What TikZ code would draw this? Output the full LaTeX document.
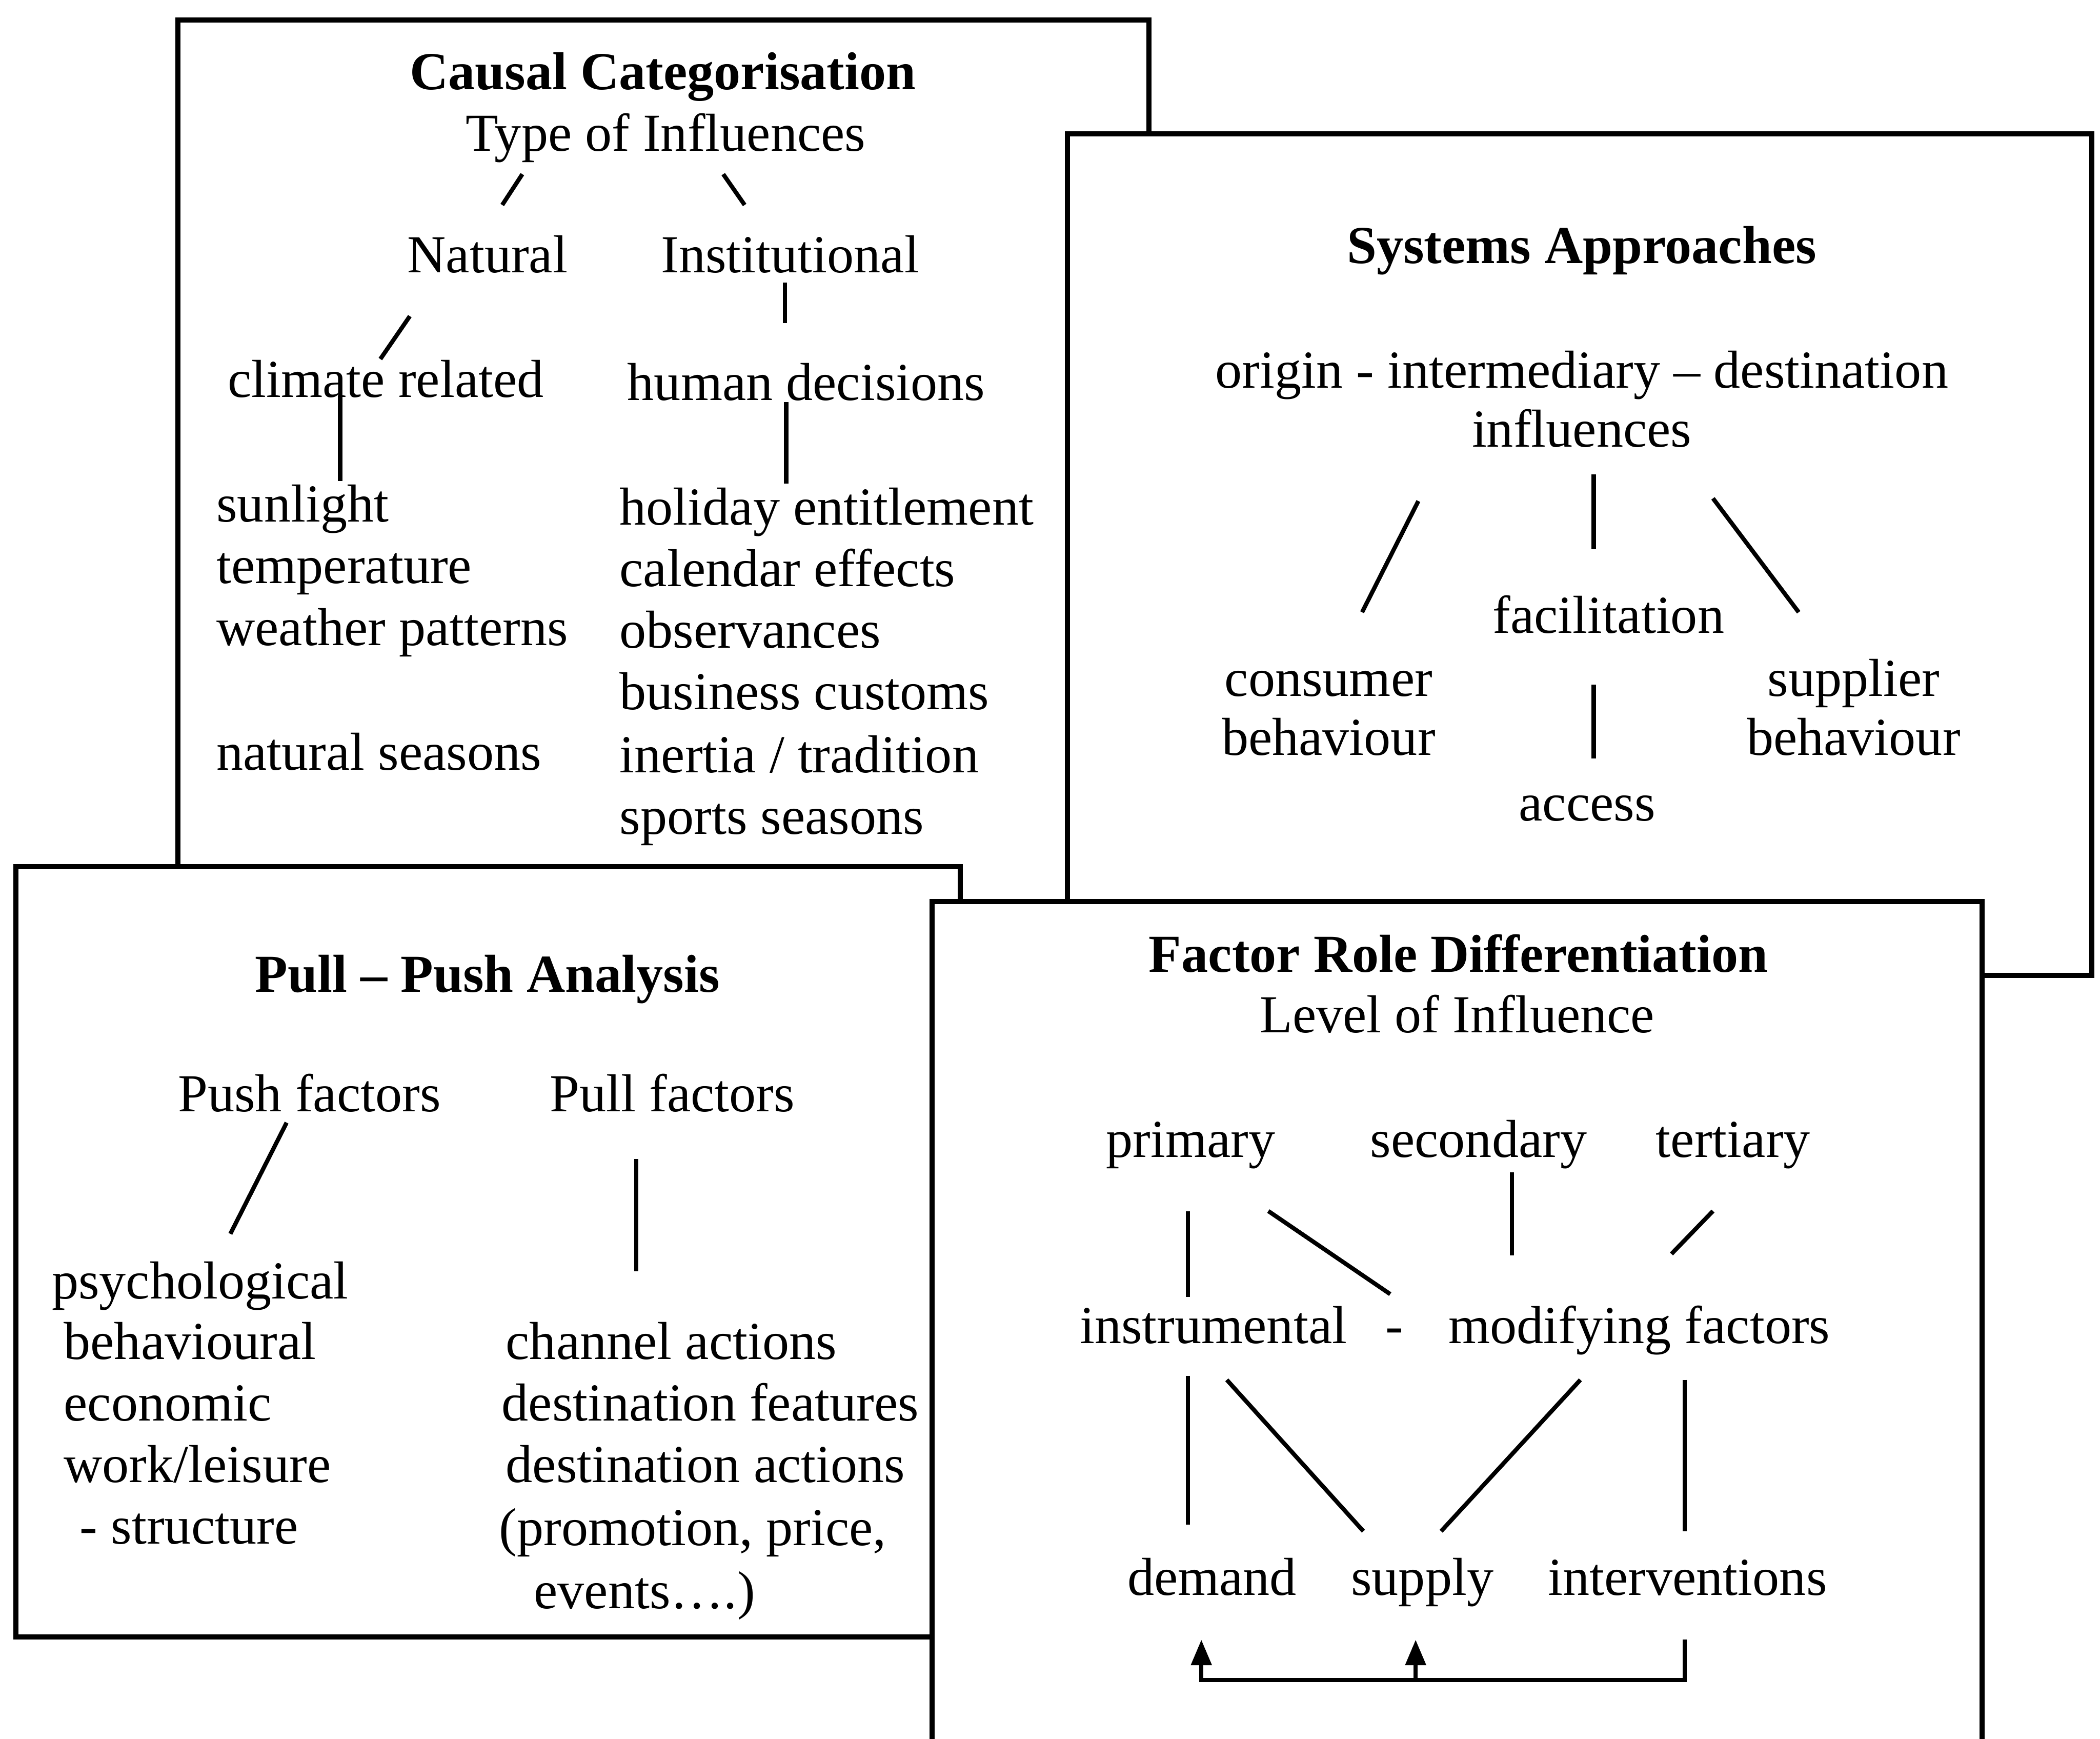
\documentclass[tikz,border=0pt]{standalone}
\usepackage{fontspec}
\setmainfont{Liberation Serif}
\usetikzlibrary{arrows.meta}
\begin{document}
\begin{tikzpicture}[
  every node/.style={font=\fontsize{11.35pt}{13.2pt}\selectfont},
  panel/.style={draw, line width=1.1pt, fill=white},
  link/.style={line width=0.9pt},
  lbl/.style={inner sep=0pt, text height=0.66em, text depth=0pt},
  hd/.style={lbl, font=\fontsize{11.35pt}{13.2pt}\selectfont\bfseries},
  item/.style={lbl, anchor=west},
  tip/.style={-{Triangle[length=1.9mm,width=1.5mm]}}
]
\clip (0,0) rectangle (15.68,-12.98);
\fill[white] (0,0) rectangle (15.68,-12.98);

% ---------- Causal Categorisation ----------
\draw[panel] (1.33,-0.15) rectangle (8.58,-7.0);
\node[hd]  (cT)   at (4.95,-0.55) {Causal Categorisation};
\node[lbl] (cS)   at (4.97,-1.01) {Type of Influences};
\node[lbl] (nat)  at (3.64,-1.92) {Natural};
\node[lbl] (inst) at (5.90,-1.92) {Institutional};
\node[lbl] (clim) at (2.88,-2.85) {climate related};
\node[lbl] (hum)  at (6.02,-2.87) {human decisions};
\node[item] (sun)  at (1.61,-3.78) {sunlight};
\node[item] (temp) at (1.61,-4.24) {temperature};
\node[item] (wea)  at (1.61,-4.70) {weather patterns};
\node[item] (nse)  at (1.61,-5.63) {natural seasons};
\node[item] (hol)  at (4.62,-3.80) {holiday entitlement};
\node[item] (cal)  at (4.62,-4.26) {calendar effects};
\node[item] (obs)  at (4.62,-4.72) {observances};
\node[item] (bus)  at (4.62,-5.18) {business customs};
\node[item] (ine)  at (4.62,-5.65) {inertia / tradition};
\node[item] (spo)  at (4.62,-6.11) {sports seasons};
\coordinate (c1a) at (3.90,-1.30); \coordinate (c1b) at (3.75,-1.53);
\coordinate (c2a) at (5.40,-1.30); \coordinate (c2b) at (5.56,-1.53);
\coordinate (c3a) at (5.86,-2.11); \coordinate (c3b) at (5.86,-2.41);
\coordinate (c4a) at (3.06,-2.36); \coordinate (c4b) at (2.84,-2.68);
\coordinate (c5a) at (2.54,-2.95); \coordinate (c5b) at (2.54,-3.59);
\coordinate (c6a) at (5.87,-3.00); \coordinate (c6b) at (5.87,-3.61);
\draw[link] (c1a) -- (c1b);
\draw[link] (c2a) -- (c2b);
\draw[link] (c3a) -- (c3b);
\draw[link] (c4a) -- (c4b);
\draw[link] (c5a) -- (c5b);
\draw[link] (c6a) -- (c6b);

% ---------- Systems Approaches ----------
\draw[panel] (7.97,-1.00) rectangle (15.62,-7.28);
\node[hd]  (sT)   at (11.81,-1.85) {Systems Approaches};
\node[lbl] (oid)  at (11.81,-2.78) {origin - intermediary -- destination};
\node[lbl] (infl) at (11.81,-3.22) {influences};
\node[lbl] (fac)  at (12.01,-4.61) {facilitation};
\node[lbl] (con1) at (9.92,-5.08) {consumer};
\node[lbl] (con2) at (9.92,-5.52) {behaviour};
\node[lbl] (sup1) at (13.84,-5.08) {supplier};
\node[lbl] (sup2) at (13.84,-5.52) {behaviour};
\node[lbl] (acc)  at (11.85,-6.01) {access};
\coordinate (s1a) at (10.59,-3.74); \coordinate (s1b) at (10.17,-4.57);
\coordinate (s2a) at (11.90,-3.54); \coordinate (s2b) at (11.90,-4.10);
\coordinate (s3a) at (12.79,-3.72); \coordinate (s3b) at (13.43,-4.57);
\coordinate (s4a) at (11.90,-5.11); \coordinate (s4b) at (11.90,-5.66);
\draw[link] (s1a) -- (s1b);
\draw[link] (s2a) -- (s2b);
\draw[link] (s3a) -- (s3b);
\draw[link] (s4a) -- (s4b);

% ---------- Pull - Push Analysis ----------
\draw[panel] (0.12,-6.47) rectangle (7.17,-12.22);
\node[hd]  (pT)   at (3.64,-7.29) {Pull -- Push Analysis};
\node[lbl] (push) at (2.31,-8.18) {Push factors};
\node[lbl] (pull) at (5.02,-8.18) {Pull factors};
\node[item] (psy) at (0.38,-9.58) {psychological};
\node[item] (beh) at (0.47,-10.03) {behavioural};
\node[item] (eco) at (0.47,-10.49) {economic};
\node[item] (wrk) at (0.47,-10.95) {work/leisure};
\node[item] (str) at (0.59,-11.41) {- structure};
\node[item] (cha) at (3.77,-10.03) {channel actions};
\node[item] (dfe) at (3.74,-10.49) {destination features};
\node[item] (dac) at (3.77,-10.95) {destination actions};
\node[item] (pro) at (3.72,-11.42) {(promotion, price,};
\node[item] (evt) at (3.98,-11.89) {events….)};
\coordinate (p1a) at (2.14,-8.38); \coordinate (p1b) at (1.72,-9.21);
\coordinate (p2a) at (4.75,-8.65); \coordinate (p2b) at (4.75,-9.49);
\draw[link] (p1a) -- (p1b);
\draw[link] (p2a) -- (p2b);

% ---------- Factor Role Differentiation ----------
\draw[panel] (6.96,-13.6) |- (14.80,-6.73) -- (14.80,-13.6);
\node[hd]  (fT)   at (10.89,-7.14) {Factor Role Differentiation};
\node[lbl] (lvl)  at (10.88,-7.59) {Level of Influence};
\node[lbl] (pri)  at (8.89,-8.52) {primary};
\node[lbl] (sec)  at (11.04,-8.52) {secondary};
\node[lbl] (ter)  at (12.94,-8.52) {tertiary};
\node[lbl] (ins)  at (9.06,-9.91) {instrumental};
\node[lbl] (sep)  at (10.41,-9.91) {-};
\node[lbl] (mod)  at (12.24,-9.91) {modifying factors};
\node[lbl] (dem)  at (9.05,-11.79) {demand};
\node[lbl] (sply) at (10.62,-11.79) {supply};
\node[lbl] (itv)  at (12.60,-11.79) {interventions};
\coordinate (f1a) at (8.87,-9.04);  \coordinate (f1b) at (8.87,-9.68);
\coordinate (f2a) at (9.47,-9.04);  \coordinate (f2b) at (10.38,-9.66);
\coordinate (f3a) at (11.29,-8.75); \coordinate (f3b) at (11.29,-9.37);
\coordinate (f4a) at (12.79,-9.04); \coordinate (f4b) at (12.48,-9.36);
\coordinate (f5a) at (8.87,-10.27); \coordinate (f5b) at (8.87,-11.38);
\coordinate (f6a) at (9.16,-10.30); \coordinate (f6b) at (10.18,-11.43);
\coordinate (f7a) at (11.80,-10.30); \coordinate (f7b) at (10.76,-11.43);
\coordinate (f8a) at (12.58,-10.30); \coordinate (f8b) at (12.58,-11.43);
\foreach \k in {1,...,8} \draw[link] (f\k a) -- (f\k b);
% feedback from interventions to demand and supply
\coordinate (fbTop)  at (12.58,-12.24);
\coordinate (fbR)    at (12.58,-12.54);
\coordinate (fbL)    at (8.97,-12.54);
\coordinate (fbDem)  at (8.97,-12.24);
\coordinate (fbMid)  at (10.57,-12.54);
\coordinate (fbSup)  at (10.57,-12.24);
\draw[link, tip] (fbTop) -- (fbR) -- (fbL) -- (fbDem);
\draw[link, tip] (fbMid) -- (fbSup);
\end{tikzpicture}
\end{document}
